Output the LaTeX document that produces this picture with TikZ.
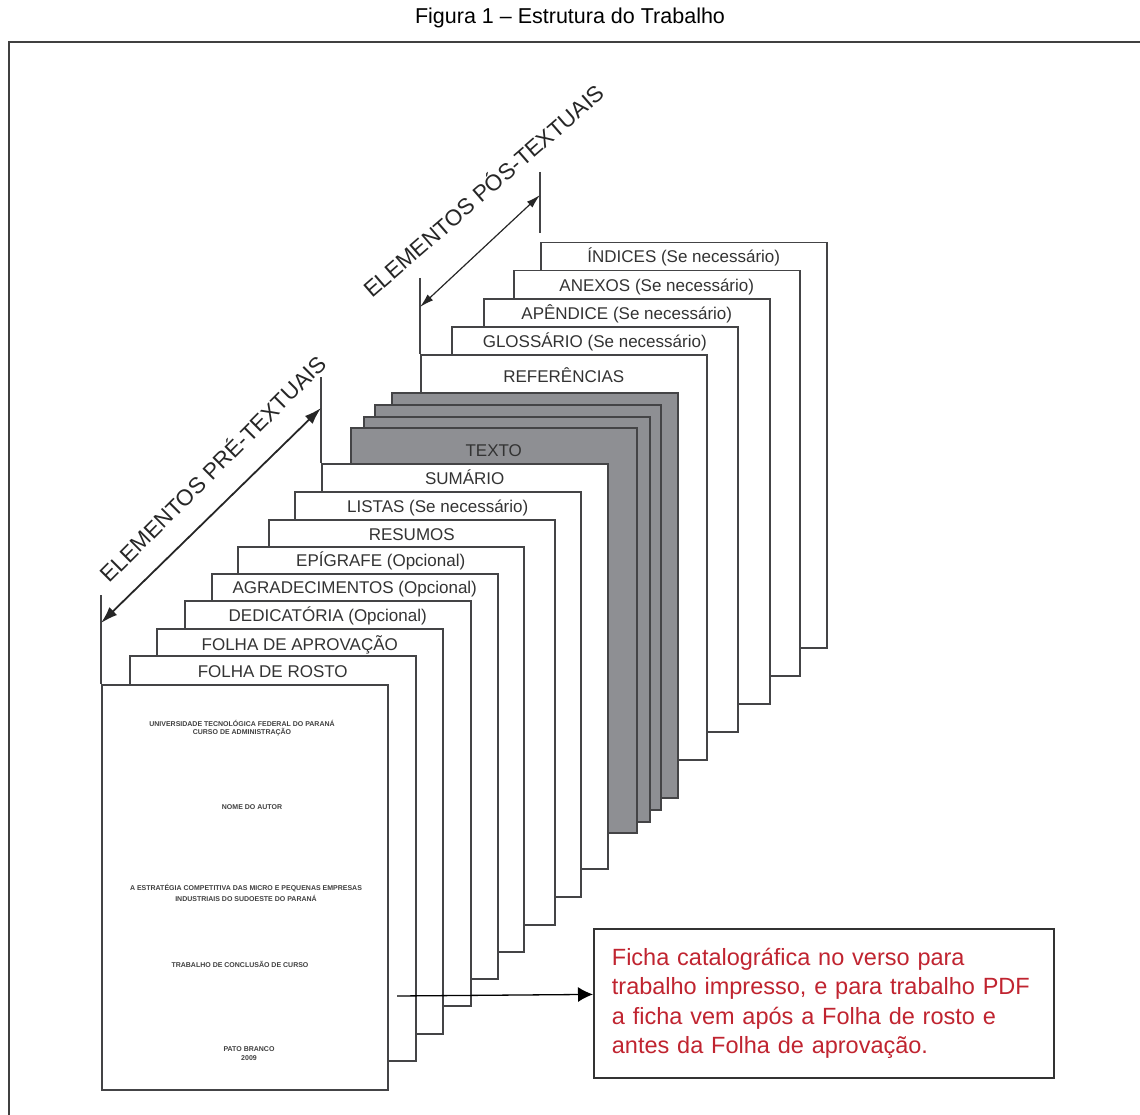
\documentclass[tikz,border=0pt]{standalone}
\usepackage{fontspec}
\setmainfont{Liberation Sans}
\usepackage{tikz}
\usetikzlibrary{arrows.meta}
\usetikzlibrary{positioning}
\tikzset{>=Latex}
\definecolor{edgegray}{RGB}{68,68,70}
\definecolor{folhagray}{RGB}{142,143,147}
\definecolor{fichared}{RGB}{192,36,48}

\begin{document}
\begin{tikzpicture}[x=1pt, y=-1pt,
    folha/.style={draw=edgegray, line width=1.5pt, fill=white, anchor=north west, minimum width=286pt, minimum height=405pt, inner sep=0pt},
    folhatexto/.style={folha, fill=folhagray},
    rotulo/.style={anchor=base, inner sep=0pt, text=black!80, font=\fontsize{17}{20}\selectfont},
    capatexto/.style={inner sep=0pt, text=black!75, font=\fontsize{7}{8}\selectfont\bfseries},
    elementos/.style={inner sep=0pt, text=black!85, font=\fontsize{22.5}{26}\selectfont},
    marca/.style={draw=edgegray, line width=1.5pt}]
        \useasboundingbox (0,0) rectangle (1140,1115);
        \node [font=\fontsize{21.5}{25}\selectfont] (titulo) at (570,18) {Figura 1 – Estrutura do Trabalho};
        \draw [line width=2.5pt, black!75] (9,1115) |- (1140,42);
        % pos-textuais
        \node [folha] (indices) at (540,242) {};
        \node [rotulo] (indices-t) at ([yshift=-20pt]indices.north) {ÍNDICES (Se necessário)};
        \node [folha] (anexos) at (513,270) {};
        \node [rotulo] (anexos-t) at ([yshift=-21pt]anexos.north) {ANEXOS (Se necessário)};
        \node [folha] (apendice) at (483,298) {};
        \node [rotulo] (apendice-t) at ([yshift=-21pt]apendice.north) {APÊNDICE (Se necessário)};
        \node [folha] (glossario) at (451,326) {};
        \node [rotulo] (glossario-t) at ([yshift=-21pt]glossario.north) {GLOSSÁRIO (Se necessário)};
        \node [folha] (referencias) at (420,354) {};
        \node [rotulo] (referencias-t) at ([yshift=-28pt]referencias.north) {REFERÊNCIAS};
        % texto
        \node [folhatexto] (texto4) at (391,392) {};
        \node [folhatexto] (texto3) at (374,404) {};
        \node [folhatexto] (texto2) at (363,416) {};
        \node [folhatexto] (texto1) at (350,427) {};
        \node [rotulo] (texto-t) at ([yshift=-29pt]texto1.north) {TEXTO};
        % pre-textuais
        \node [folha] (sumario) at (321,463) {};
        \node [rotulo] (sumario-t) at ([yshift=-21pt]sumario.north) {SUMÁRIO};
        \node [folha] (listas) at (294,491) {};
        \node [rotulo] (listas-t) at ([yshift=-21pt]listas.north) {LISTAS (Se necessário)};
        \node [folha] (resumos) at (268,519) {};
        \node [rotulo] (resumos-t) at ([yshift=-21pt]resumos.north) {RESUMOS};
        \node [folha] (epigrafe) at (237,546) {};
        \node [rotulo] (epigrafe-t) at ([yshift=-20pt]epigrafe.north) {EPÍGRAFE (Opcional)};
        \node [folha] (agradecimentos) at (211,573) {};
        \node [rotulo] (agradecimentos-t) at ([yshift=-20pt]agradecimentos.north) {AGRADECIMENTOS (Opcional)};
        \node [folha] (dedicatoria) at (184,600) {};
        \node [rotulo] (dedicatoria-t) at ([yshift=-21pt]dedicatoria.north) {DEDICATÓRIA (Opcional)};
        \node [folha] (aprovacao) at (156,628) {};
        \node [rotulo] (aprovacao-t) at ([yshift=-22pt]aprovacao.north) {FOLHA DE APROVAÇÃO};
        \node [folha] (rosto) at (129,655) {};
        \node [rotulo] (rosto-t) at ([yshift=-22pt]rosto.north) {FOLHA DE ROSTO};
        % capa
        \node [folha] (capa) at (101,684) {};
        \node [capatexto] (capa-1) at (242,723) {UNIVERSIDADE TECNOLÓGICA FEDERAL DO PARANÁ};
        \node [capatexto] (capa-2) at (242,732) {CURSO DE ADMINISTRAÇÃO};
        \node [capatexto] (capa-3) at (252,807) {NOME DO AUTOR};
        \node [capatexto] (capa-4) at (246,888) {A ESTRATÉGIA COMPETITIVA DAS MICRO E PEQUENAS EMPRESAS};
        \node [capatexto] (capa-5) at (246,898) {INDUSTRIAIS DO SUDOESTE DO PARANÁ};
        \node [capatexto] (capa-6) at (240,964) {TRABALHO DE CONCLUSÃO DE CURSO};
        \node [capatexto] (capa-7) at (249,1049) {PATO BRANCO};
        \node [capatexto] (capa-8) at (249,1058) {2009};
        % cotas
        \coordinate (pre-inicio) at (101,595);
        \coordinate (pre-fim) at (321,377);
        \draw [marca] (pre-inicio)--(capa.north west);
        \draw [marca] (pre-fim)--(sumario.north west);
        \coordinate (pre-a) at (101,623);
        \coordinate (pre-b) at (321,408);
        \draw [{Latex[length=17pt,width=11pt]}-{Latex[length=17pt,width=11pt]}, line width=1.8pt, black!85] (pre-a)--(pre-b);
        \node [elementos, rotate=45] (pre-rotulo) at (212,468) {ELEMENTOS PRÉ-TEXTUAIS};
        \coordinate (pos-inicio) at (420,278);
        \coordinate (pos-fim) at (540,172);
        \coordinate (pos-fim2) at (540,233);
        \draw [marca] (pos-inicio)--(referencias.north west);
        \draw [marca] (pos-fim)--(pos-fim2);
        \coordinate (pos-a) at (420,307);
        \coordinate (pos-b) at (540,195);
        \draw [{Latex[length=14pt,width=8pt]}-{Latex[length=14pt,width=8pt]}, line width=1.2pt, black!85] (pos-a)--(pos-b);
        \node [elementos, rotate=41] (pos-rotulo) at (483,190) {ELEMENTOS PÓS-TEXTUAIS};
        % ficha catalografica
        \node [draw=black!80, line width=1.8pt, anchor=north west, text width=424pt, inner xsep=18pt, minimum height=149pt, align=left, text=fichared, font=\fontsize{23.5}{29.5}\selectfont] (ficha) at (593,928) {Ficha catalográfica no verso para\\trabalho impresso, e para trabalho PDF\\a ficha vem após a Folha de rosto e\\antes da Folha de aprovação.};
        \coordinate (capa-seta) at (397,996);
        \draw [-{Latex[length=15pt,width=15pt]}, line width=1.3pt] (capa-seta)--([yshift=9pt]ficha.west);
    \end{tikzpicture}
\end{document}
